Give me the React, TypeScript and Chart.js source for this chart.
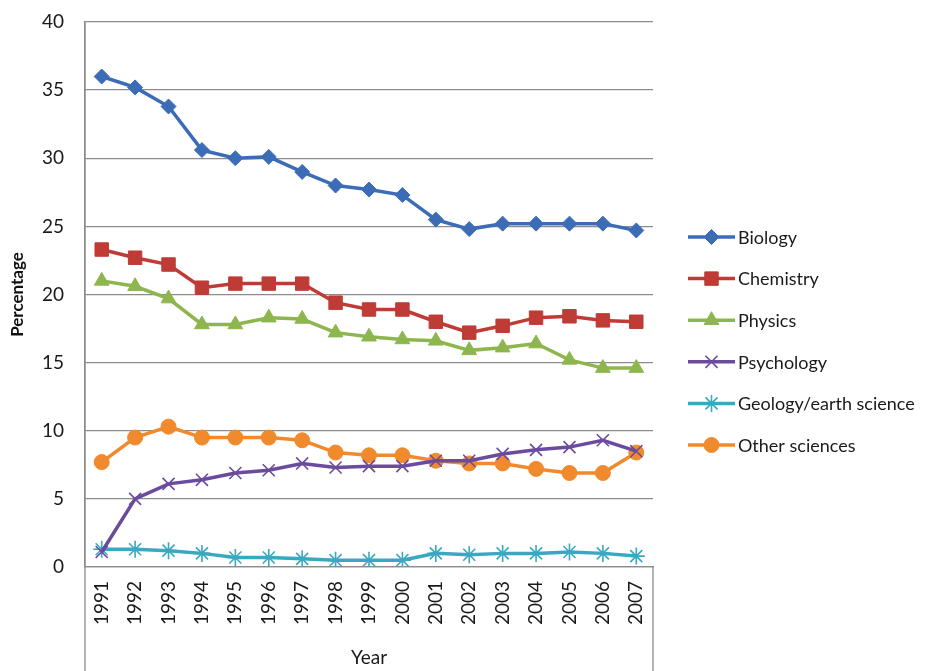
import React, { useEffect, useRef } from "react";
import { Chart, registerables } from "chart.js";
import { drawPoint } from "chart.js/helpers";

Chart.register(...registerables);

const years = ["1991","1992","1993","1994","1995","1996","1997","1998","1999","2000","2001","2002","2003","2004","2005","2006","2007"];
const biology = [36.0,35.2,33.8,30.6,30.0,30.1,29.0,28.0,27.7,27.3,25.5,24.8,25.2,25.2,25.2,25.2,24.7];
const chemistry = [23.3,22.7,22.2,20.5,20.8,20.8,20.8,19.4,18.9,18.9,18.0,17.2,17.7,18.3,18.4,18.1,18.0];
const physics = [21.0,20.6,19.7,17.8,17.8,18.3,18.2,17.2,16.9,16.7,16.6,15.9,16.1,16.4,15.2,14.6,14.6];
const psychology = [1.1,5.0,6.1,6.4,6.9,7.1,7.6,7.3,7.4,7.4,7.8,7.8,8.3,8.6,8.8,9.3,8.5];
const geology = [1.3,1.3,1.2,1.0,0.7,0.7,0.6,0.5,0.5,0.5,1.0,0.9,1.0,1.0,1.1,1.0,0.8];
const otherSciences = [7.7,9.5,10.3,9.5,9.5,9.5,9.3,8.4,8.2,8.2,7.8,7.6,7.6,7.2,6.9,6.9,8.4];

const seriesNames = ["Biology","Chemistry","Physics","Psychology","Geology/earth science","Other sciences"];
const seriesValues = [biology, chemistry, physics, psychology, geology, otherSciences];
const seriesColors = ["#3C6CB6","#BF3B36","#8DB64E","#6B4B9E","#3AA8C0","#F08A2C"];
const seriesMarkers = ["rectRot","rect","triangle","crossRot","star","circle"];
const markerRadius = [7.5, 9.5, 8.5, 8.5, 8.5, 7.5];

const yTicks = [0, 5, 10, 15, 20, 25, 30, 35, 40];

const FONT = "Lato, 'Open Sans', sans-serif";
const GRID = "#8c8c8c";

const extrasPlugin = {
  id: "extras",
  afterDraw(chart: any) {
    const ctx = chart.ctx;
    const a = chart.chartArea;
    ctx.save();
    ctx.strokeStyle = GRID;
    ctx.lineWidth = 1.3;
    ctx.beginPath();
    ctx.moveTo(a.left, a.top);
    ctx.lineTo(a.left, chart.height);
    ctx.moveTo(a.right, a.bottom);
    ctx.lineTo(a.right, chart.height);
    ctx.stroke();

    // legend
    const x0 = a.right + 35;
    const x1 = a.right + 82;
    const textX = a.right + 85;
    const y0 = 237;
    const step = 41.6;
    chart.data.datasets.forEach((ds: any, i: number) => {
      const y = y0 + i * step;
      ctx.strokeStyle = ds.borderColor;
      ctx.lineWidth = 3.5;
      ctx.beginPath();
      ctx.moveTo(x0, y);
      ctx.lineTo(x1, y);
      ctx.stroke();
      ctx.fillStyle = ds.pointBackgroundColor;
      ctx.strokeStyle = ds.pointBorderColor;
      ctx.lineWidth = ds.pointBorderWidth;
      drawPoint(ctx, {
        pointStyle: ds.pointStyle,
        radius: ds.pointRadius,
        borderWidth: ds.pointBorderWidth,
        rotation: 0,
      } as any, (x0 + x1) / 2, y);
      ctx.fillStyle = "#1a1a1a";
      ctx.font = "18px " + FONT;
      ctx.textBaseline = "middle";
      ctx.textAlign = "left";
      ctx.fillText(ds.label, textX, y + 1);
    });
    ctx.restore();
  },
};

export default function App() {
  const ref = useRef<HTMLCanvasElement | null>(null);
  useEffect(() => {
    if (!ref.current) return;
    const chart = new Chart(ref.current, {
      type: "line",
      data: {
        labels: years,
        datasets: seriesNames.map((name, i) => ({
          label: name,
          data: seriesValues[i],
          borderColor: seriesColors[i],
          backgroundColor: seriesColors[i],
          pointBackgroundColor: seriesColors[i],
          pointBorderColor: seriesColors[i],
          pointStyle: seriesMarkers[i] as any,
          pointRadius: markerRadius[i],
          pointBorderWidth: seriesMarkers[i] === "crossRot" || seriesMarkers[i] === "star" ? 1.6 : 1,
          borderWidth: 3.5,
          tension: 0,
          fill: false,
        })),
      },
      options: {
        animation: false,
        responsive: false,
        devicePixelRatio: 1,
        layout: { padding: { left: 0, top: 22, right: 295, bottom: 0 } },
        plugins: { legend: { display: false }, tooltip: { enabled: false } },
        scales: {
          x: {
            offset: true,
            grid: { display: false, drawTicks: false },
            border: { display: true, color: GRID, width: 1.3 },
            ticks: {
              autoSkip: false,
              maxRotation: 90,
              minRotation: 90,
              padding: 14,
              color: "#1a1a1a",
              font: { family: FONT, size: 19 },
            },
            title: {
              display: true,
              text: "Year",
              color: "#1a1a1a",
              font: { family: FONT, size: 19 },
              padding: { top: 0, bottom: 2 },
            },
            afterFit(scale: any) {
              scale.height = 104;
              scale.paddingTop = 0;
              scale.paddingBottom = 0;
            },
          },
          y: {
            min: 0,
            max: 40,
            afterBuildTicks(scale: any) { scale.ticks = yTicks.map((v) => ({ value: v })); },
            grid: { color: GRID, lineWidth: 1.3, drawTicks: false },
            border: { display: true, color: GRID, width: 1.3 },
            ticks: {
              padding: 21,
              color: "#1a1a1a",
              font: { family: FONT, size: 19 },
            },
            title: {
              display: true,
              text: "Percentage",
              color: "#111",
              font: { family: FONT, size: 17, weight: "bold" },
              padding: { top: 7, bottom: 0 },
            },
            afterFit(scale: any) {
              scale.width = 85;
              scale.paddingTop = 0;
              scale.paddingBottom = 0;
            },
          },
        },
      },
      plugins: [extrasPlugin],
    });
    return () => chart.destroy();
  }, []);
  return (
    <div style={{ position: "absolute", left: 0, top: 0, width: 948, height: 671, background: "#fff" }}>
      <canvas ref={ref} width={948} height={671} />
    </div>
  );
}
